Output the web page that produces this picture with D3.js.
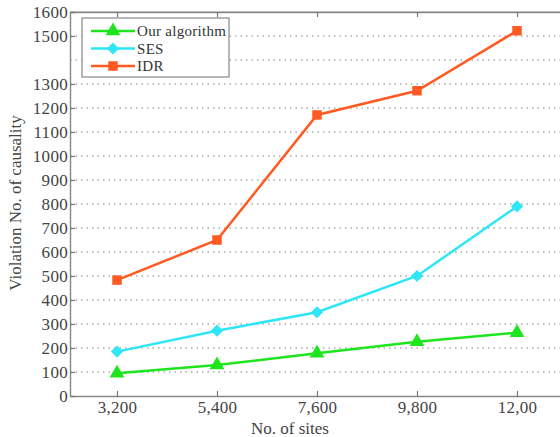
<!DOCTYPE html>
<html>
<head>
<meta charset="utf-8">
<script src="https://cdn.jsdelivr.net/npm/d3@7"></script>
<style>
  body { margin: 0; background: #fff; }
  text { font-family: "Liberation Serif", "DejaVu Serif", serif; }
</style>
</head>
<body>
<div id="chart"></div>
<script>
////// DATA

// Anzahl der Sites (x-Achse)
var sites = [3200, 5400, 7600, 9800, 12000];
// letzte Beschriftung ist im Bild abgeschnitten
var siteLabels = ["3,200", "5,400", "7,600", "9,800", "12,00"];

// Verletzungen pro Verfahren
var ourAlgorithm = [95, 129, 178, 226, 264];
var ses = [185, 272, 349, 500, 790];
var idr = [483, 650, 1171, 1272, 1522];

// Beschriftung der y-Achse, so wie im Bild (1400 fehlt dort)
var yTickLabels = ["0", "100", "200", "300", "400", "500", "600", "700", "800", "900",
  "1000", "1100", "1200", "1300", "1500", "1600"];
var yGridValues = [0, 100, 200, 300, 400, 500, 600, 700, 800, 900, 1000, 1100, 1200, 1300, 1400, 1500, 1600];

var seriesNames = ["Our algorithm", "SES", "IDR"];

////// CHART

var width = 560, height = 437;
// Plotbereich ("top" ist in window reserviert)
var plotLeft = 70, plotRight = 564, plotTop = 12, plotBottom = 396;

var svg = d3.select("#chart")
  .append("svg")
  .attr("width", width)
  .attr("height", height);

svg.append("rect")
  .attr("width", width)
  .attr("height", height)
  .style("fill", "#fff");

// Skalen
var x = d3.scalePoint()
  .domain(sites)
  .range([plotLeft, plotRight])
  .padding(0.47);

var y = d3.scaleLinear()
  .domain([0, 1600])
  .range([plotBottom, plotTop]);

// Gitterlinien (gepunktet)
svg.append("g")
  .selectAll("line")
  .data(yGridValues.filter(function(v) { return v > 0 && v < 1600; }))
  .enter().append("line")
  .attr("x1", plotLeft)
  .attr("x2", plotRight)
  .attr("y1", function(d) { return y(d); })
  .attr("y2", function(d) { return y(d); })
  .style("stroke", "#aaa")
  .style("stroke-width", 1.3)
  .style("stroke-dasharray", "1.5,4");

// Rahmen oben
svg.append("line")
  .attr("x1", plotLeft).attr("x2", plotRight)
  .attr("y1", plotTop).attr("y2", plotTop)
  .style("stroke", "#999")
  .style("stroke-width", 1.2);

// x-Achse unten
var xAxis = d3.axisBottom(x)
  .tickSizeInner(-5)
  .tickSizeOuter(0)
  .tickPadding(5)
  .tickFormat(function(d, i) { return siteLabels[i]; });

var gx = svg.append("g")
  .attr("transform", "translate(0," + plotBottom + ")")
  .call(xAxis);

// Ticks oben
var gxTop = svg.append("g")
  .attr("transform", "translate(0," + plotTop + ")")
  .call(d3.axisTop(x).tickSizeInner(-5).tickSizeOuter(0).tickFormat(""));

// y-Achse
var yAxis = d3.axisLeft(y)
  .tickValues(yTickLabels.map(Number))
  .tickSizeInner(-5)
  .tickSizeOuter(0)
  .tickPadding(2)
  .tickFormat(function(d) { return String(d); });

var gy = svg.append("g")
  .attr("transform", "translate(" + plotLeft + ",0)")
  .call(yAxis);

[gx, gxTop, gy].forEach(function(g) {
  g.select(".domain").style("stroke", "#888").style("stroke-width", 1.4);
  g.selectAll(".tick line").style("stroke", "#777").style("stroke-width", 1.2);
  g.selectAll("text")
    .style("font-family", "'Liberation Serif', serif")
    .style("font-size", "17px")
    .style("letter-spacing", "0.3px")
    .style("fill", "#444");
});

// Achsentitel
svg.append("text")
  .attr("x", 290)
  .attr("y", 434)
  .attr("text-anchor", "middle")
  .style("font-size", "17px")
  .style("fill", "#444")
  .text("No. of sites");

svg.append("text")
  .attr("transform", "translate(21,203) rotate(-90)")
  .attr("text-anchor", "middle")
  .style("font-size", "17px")
  .style("fill", "#444")
  .text("Violation No. of causality");

// Serien
var series = [
  { name: seriesNames[0], values: ourAlgorithm, color: "#1ee51e", symbol: d3.symbolTriangle, size: 95 },
  { name: seriesNames[1], values: ses, color: "#2ee6f6", symbol: d3.symbolDiamond2, size: 95 },
  { name: seriesNames[2], values: idr, color: "#ff5a22", symbol: d3.symbolSquare, size: 90 }
];

var line = d3.line()
  .x(function(d, i) { return x(sites[i]); })
  .y(function(d) { return y(d); });

series.forEach(function(s) {
  svg.append("path")
    .datum(s.values)
    .attr("d", line)
    .style("fill", "none")
    .style("stroke", s.color)
    .style("stroke-width", 2.5);

  svg.append("g")
    .selectAll("path")
    .data(s.values)
    .enter().append("path")
    .attr("transform", function(d, i) { return "translate(" + x(sites[i]) + "," + y(d) + ")"; })
    .attr("d", d3.symbol().type(s.symbol).size(s.size))
    .style("fill", s.color);
});

// Legende
var legend = svg.append("g").attr("transform", "translate(82,18)");

legend.append("rect")
  .attr("width", 147)
  .attr("height", 59)
  .style("fill", "#fff")
  .style("stroke", "#888")
  .style("stroke-width", 1.2);

series.forEach(function(s, i) {
  var ly = 13 + i * 17.5;
  legend.append("line")
    .attr("x1", 9).attr("x2", 53)
    .attr("y1", ly).attr("y2", ly)
    .style("stroke", s.color)
    .style("stroke-width", 2.5);
  legend.append("path")
    .attr("transform", "translate(31," + ly + ")")
    .attr("d", d3.symbol().type(s.symbol).size(s.size))
    .style("fill", s.color);
  legend.append("text")
    .attr("x", 55)
    .attr("y", ly + 5)
    .style("font-size", "15px")
    .style("letter-spacing", "0.3px")
    .style("fill", "#333")
    .text(s.name);
});
</script>
</body>
</html>
